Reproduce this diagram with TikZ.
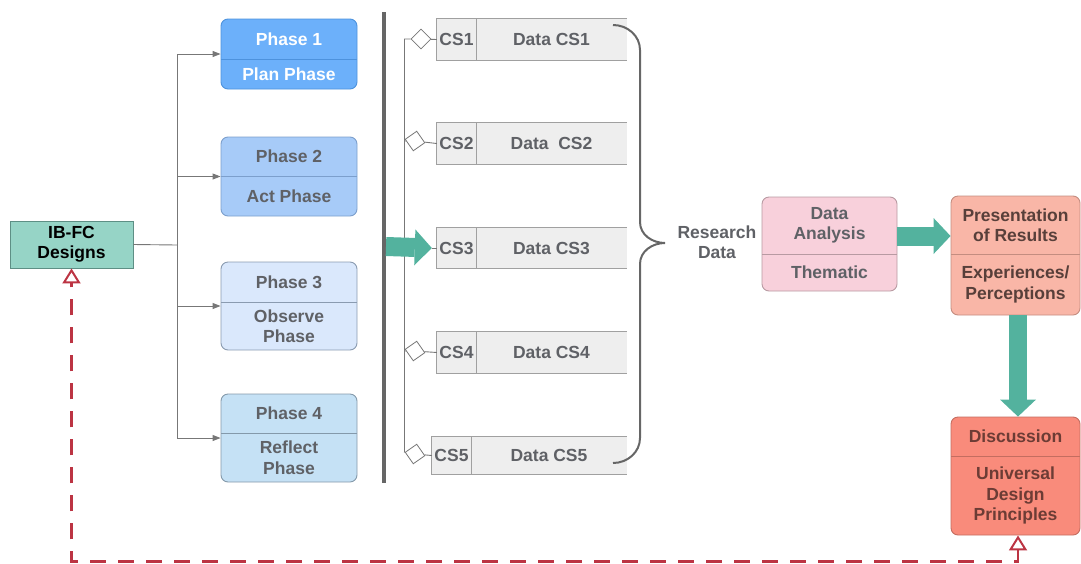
\documentclass[tikz,border=0pt]{standalone}
\usepackage{fontspec}
\setmainfont{Liberation Sans}
\usetikzlibrary{arrows.meta,fit,calc,shapes.geometric}

\definecolor{tealc}{HTML}{53B29E}
\definecolor{ibfill}{HTML}{96D4C6}
\definecolor{ibdraw}{HTML}{5E8F85}
\definecolor{pafill}{HTML}{6CB0FA}
\definecolor{padraw}{HTML}{4D92DD}
\definecolor{pbfill}{HTML}{A7CBF8}
\definecolor{pbdraw}{HTML}{7C9FCC}
\definecolor{pcfill}{HTML}{DAE8FC}
\definecolor{pcdraw}{HTML}{8A9BB0}
\definecolor{pdfill}{HTML}{C5E1F5}
\definecolor{pddraw}{HTML}{8499AA}
\definecolor{dafill}{HTML}{F8D0DB}
\definecolor{dadraw}{HTML}{B89AA2}
\definecolor{prfill}{HTML}{F9B6A7}
\definecolor{prdraw}{HTML}{C48D80}
\definecolor{dcfill}{HTML}{F98B7B}
\definecolor{dcdraw}{HTML}{C46D60}
\definecolor{csfillc}{HTML}{EEEEEE}
\definecolor{csdrawc}{HTML}{A0A0A0}
\definecolor{greytext}{HTML}{5F6166}
\definecolor{reddash}{HTML}{BC3443}
\definecolor{connc}{HTML}{777777}

\newcommand\lab{\fontsize{17.5}{20.5}\selectfont\bfseries}

% rounded box with a header and a body section
\newcommand\splitbox[9]{%
  \node[#7, fit={(#2,#3) (#4,#5)}, inner sep=0pt, rounded corners=7pt] (#1) {};
  \path[#7, fill=none] (#2,#6) -- (#4,#6);
  \node[#7, draw=none, fill=none, txt] (#1-top) at ({(#2+#4)/2},{(#3+#6)/2}) {#8};
  \node[#7, draw=none, fill=none, txt] (#1-bot) at ({(#2+#4)/2},{(#6+#5)/2}) {#9};
}

% case-study record: id cell and data cell, open on the right
\newcommand\csbox[8]{%
  \node[fill=csfillc, fit={(#2,#3) (#4,#5)}, inner sep=0pt] (#1) {};
  \draw[csline] (#1.north east) -- (#1.north west) -- (#1.south west) -- (#1.south east);
  \draw[csline] (#6,#3) -- (#6,#5);
  \node[txt, text=greytext] (#1-id) at ({(#2+#6)/2},{(#3+#5)/2}) {#7};
  \node[txt, text=greytext] (#1-data) at ({(#6+#4)/2},{(#3+#5)/2}) {#8};
}

\tikzset{
  txt/.style={font=\lab, align=center, inner sep=0pt},
  csline/.style={draw=csdrawc, line width=0.9pt},
  conn/.style={draw=connc, line width=0.9pt},
  tree/.style={conn, -{Triangle[length=8pt,width=6pt]}, fill=none},
  diam/.style={draw=connc, fill=white, line width=0.8pt, rectangle, minimum size=14pt, inner sep=0pt},
  fat/.style={draw=tealc, line width=#1, -{Triangle[length=17pt,width=36pt,line width=0pt]}},
  phA/.style={fill=pafill, draw=padraw, line width=0.9pt, text=white},
  phB/.style={fill=pbfill, draw=pbdraw, line width=0.9pt, text=greytext},
  phC/.style={fill=pcfill, draw=pcdraw, line width=0.9pt, text=greytext},
  phD/.style={fill=pdfill, draw=pddraw, line width=0.9pt, text=greytext},
  anb/.style={fill=dafill, draw=dadraw, line width=0.9pt, text=greytext},
  prb/.style={fill=prfill, draw=prdraw, line width=0.9pt, text=black!55!prdraw},
  dcb/.style={fill=dcfill, draw=dcdraw, line width=0.9pt, text=black!45!dcdraw},
  loopline/.style={draw=reddash, line width=2.2pt, dash pattern=on 16pt off 12pt,
    {Triangle[open,length=15pt,width=18pt,line width=2pt]}-{Triangle[open,length=15pt,width=18pt,line width=2pt]}},
}

\begin{document}
\begin{tikzpicture}[x=1pt,y=-1pt]
\useasboundingbox (0,0) rectangle (1081,563);

% source designs
\node[fill=ibfill, draw=ibdraw, line width=0.9pt, fit={(10,221) (133,268)}, inner sep=0pt] (ibfc) {};
\node[txt, text=black] (ibfc-t) at (71.5,244) {IB-FC\\Designs};

% the four action-research phases
\splitbox{p1}{221}{19}{357}{89}{59}{phA}{Phase 1}{Plan Phase}
\splitbox{p2}{221}{137}{357}{216}{176}{phB}{Phase 2}{Act Phase}
\splitbox{p3}{221}{262}{357}{350}{302}{phC}{Phase 3}{Observe\\Phase}
\splitbox{p4}{221}{394}{357}{482}{433}{phD}{Phase 4}{Reflect\\Phase}

\coordinate (split) at (177,245);
\draw[conn] (ibfc.east) -- (split);
\foreach \p in {p1,p2,p3,p4}{
  \draw[tree] (split) |- (\p.west);
}

% separator bar
\coordinate (barT) at (384,12);
\coordinate (barB) at (384,483);
\draw[draw=black!60, line width=3.5pt] (barT) -- (barB);

% case studies
\csbox{cs1}{437}{19}{627}{60}{476}{CS1}{Data CS1}
\csbox{cs2}{437}{123}{627}{164}{476}{CS2}{Data\ \ CS2}
\csbox{cs3}{437}{228}{627}{268}{476}{CS3}{Data CS3}
\csbox{cs4}{437}{332}{627}{373}{476}{CS4}{Data CS4}
\csbox{cs5}{432}{437}{627}{474}{471}{CS5}{Data CS5}

\coordinate (trT) at (404,39);
\coordinate (trB) at (404,452);
\draw[conn] (trT) -- (trB);
\node[diam, rotate=45] (d1) at (421,39) {};
\node[diam, rotate=35] (d2) at (415,141) {};
\node[diam, rotate=35] (d4) at (415,351) {};
\node[diam, rotate=35] (d5) at (415,454) {};
\draw[conn] (trT) -- (d1) -- (cs1.west);
\draw[conn] (404,141) -- (d2) -- (cs2.west);
\draw[conn] (404,351) -- (d4) -- (cs4.west);
\draw[conn] (trB) -- (d5) -- (cs5.west);

% feed into CS3
\coordinate (fa) at (386,246.5);
\coordinate (fz) at ($(cs3.west)+(-5,0)$);
\draw[conn] (fz) -- (cs3.west);
\draw[fat=19pt] (fa) -- (fz);

% brace gathering the research data
\draw[draw=black!60, line width=2pt]
  (613,25) to[out=0,in=90] (640,50) -- (640,222)
  to[out=-90,in=180] (665,243) to[out=180,in=90] (640,264)
  -- (640,438) to[out=-90,in=0] (613,463);
\node[txt, text=greytext] (rdata) at (717,242) {Research\\Data};

% analysis and results
\splitbox{da}{762}{197}{897}{291}{254}{anb}{Data\\Analysis}{Thematic}
\splitbox{pr}{951}{196}{1080}{315}{254}{prb}{Presentation\\of Results}{Experiences/\\Perceptions}
\splitbox{dc}{951}{417}{1080}{535}{456}{dcb}{Discussion}{Universal\\Design\\Principles}

\coordinate (a1) at ($(da.east)+(0,-8)$);
\draw[fat=19pt] (a1) -- (a1 -| pr.west);
\draw[fat=18pt] ($(pr.south)+(2.5,0)$) -- ($(dc.north)+(2.5,0)$);

% feedback loop to the designs
\coordinate (fbR) at ($(dc.south)+(2.5,26)$);
\draw[loopline] ($(dc.south)+(2.5,0)$) -- (fbR) -| (ibfc.south);
\end{tikzpicture}
\end{document}
